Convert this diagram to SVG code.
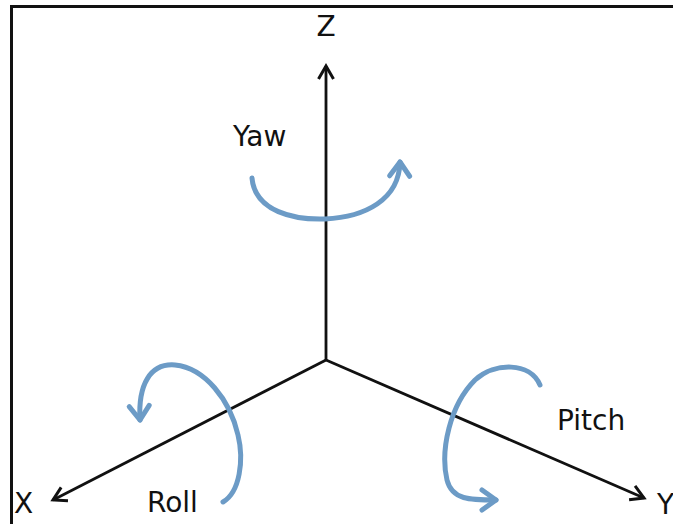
<svg xmlns="http://www.w3.org/2000/svg" width="673" height="524" viewBox="0 0 673 524">
<style>
.frame{stroke:#111;stroke-width:3;fill:none}
.axis{stroke:#111;stroke-width:2.8;fill:none}
.rot{stroke:#6c9bc6;stroke-width:5;fill:none;stroke-linecap:round}
.lbl{font-family:"DejaVu Sans","Verdana",sans-serif;font-size:28px;fill:#111}
</style>
<defs>
<marker id="ah" markerUnits="userSpaceOnUse" viewBox="-16 -11 20 22" markerWidth="20" markerHeight="22" refX="0" refY="0" orient="auto">
<path d="M-13,-7.5 L0,0 L-13,7.5" fill="none" stroke="#111" stroke-width="3" stroke-linejoin="miter"/>
</marker>
<marker id="bh" markerUnits="userSpaceOnUse" viewBox="-18 -14 24 28" markerWidth="24" markerHeight="28" refX="0" refY="0" orient="auto">
<path d="M-14,-10 L0,0 L-14,10" fill="none" stroke="#6c9bc6" stroke-width="5" stroke-linecap="round" stroke-linejoin="round"/>
</marker>
</defs>
<g id="frame">
<line class="frame" x1="11.5" y1="6.5" x2="673" y2="6.5"/>
<line class="frame" x1="11.5" y1="5" x2="11.5" y2="524"/>
</g>
<g id="connectors">
<line class="axis" x1="326" y1="360" x2="326" y2="66" marker-end="url(#ah)"/>
<line class="axis" x1="326" y1="360" x2="53" y2="500" marker-end="url(#ah)"/>
<line class="axis" x1="326" y1="360" x2="644" y2="498" marker-end="url(#ah)"/>
</g>
<g id="yaw">
<path class="rot" d="M252,178 C255,212 295,220 325,219 C365,217 399,200 400,162" marker-end="url(#bh)"/>
<text class="lbl" x="233" y="146">Yaw</text>
</g>
<g id="roll">
<path class="rot" d="M223,502 C240,492 244,460 238,435 C230,400 205,368 175,365 C150,363 138,385 140,420" marker-end="url(#bh)"/>
<text class="lbl" x="147" y="512">Roll</text>
</g>
<g id="pitch">
<path class="rot" d="M540,385 C530,362 495,362 475,380 C450,405 440,450 447,480 C452,500 470,500 496,500" marker-end="url(#bh)"/>
<text class="lbl" x="557" y="430">Pitch</text>
</g>
<g id="z-label"><text class="lbl" x="326" y="36" text-anchor="middle">Z</text></g>
<g id="x-label"><text class="lbl" x="14" y="513">X</text></g>
<g id="y-label"><text class="lbl" x="657" y="514">Y</text></g>
</svg>
